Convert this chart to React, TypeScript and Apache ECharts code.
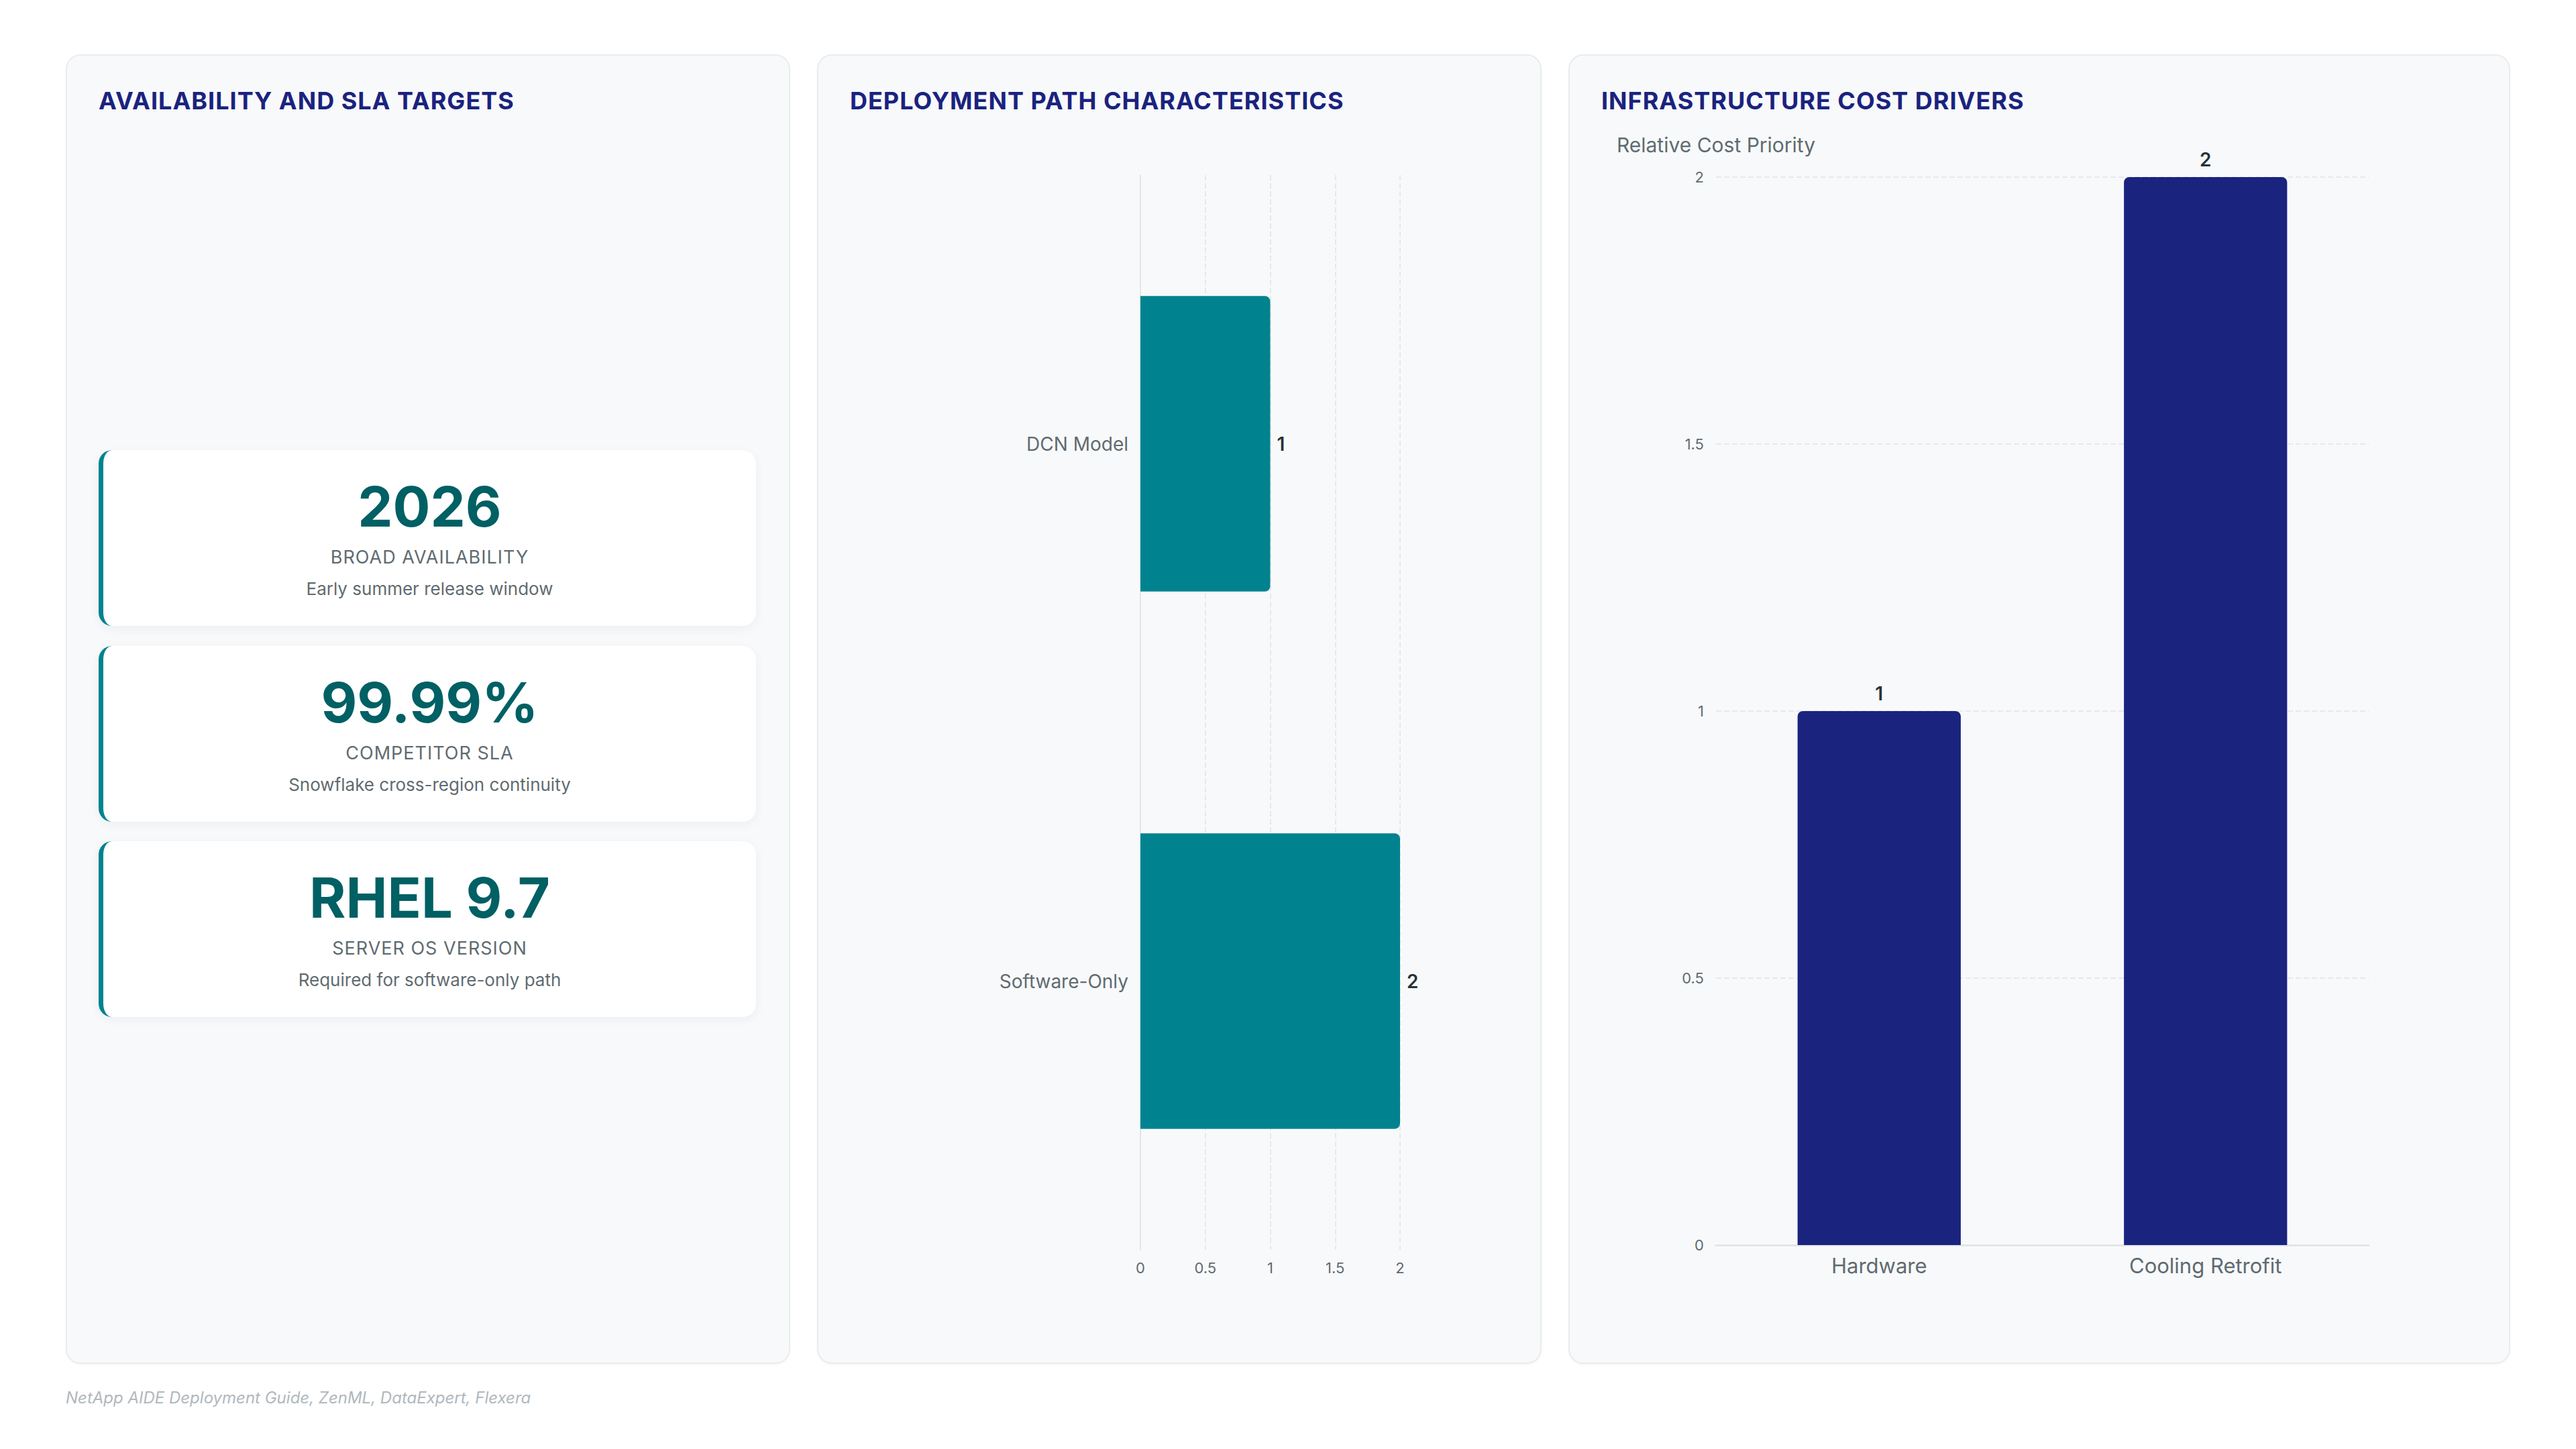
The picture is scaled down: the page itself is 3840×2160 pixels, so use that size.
import React, { useEffect, useRef } from "react";
import * as echarts from "echarts";

const panelTitles = ["AVAILABILITY AND SLA TARGETS", "DEPLOYMENT PATH CHARACTERISTICS", "INFRASTRUCTURE COST DRIVERS"];
const kpiValues = ["2026", "99.99%", "RHEL 9.7"];
const kpiLabels = ["BROAD AVAILABILITY", "COMPETITOR SLA", "SERVER OS VERSION"];
const kpiNotes = ["Early summer release window", "Snowflake cross-region continuity", "Required for software-only path"];
const deployCategories = ["DCN Model", "Software-Only"];
const deployValues = [1, 2];
const costCategories = ["Hardware", "Cooling Retrofit"];
const costValues = [1, 2];
const costAxisName = "Relative Cost Priority";
const sourceText = "NetApp AIDE Deployment Guide, ZenML, DataExpert, Flexera";

const FONT = "Inter, 'Noto Sans', sans-serif";
const GRAY = "#5f6b70";
const NAVY = "#1a237e";
const TEAL = "#00838f";
const DARK_TEAL = "#006064";

function Chart({ option, style }: { option: any; style: React.CSSProperties }) {
  const ref = useRef<HTMLDivElement>(null);
  useEffect(() => {
    if (!ref.current) return;
    const chart = echarts.init(ref.current, null, { renderer: "svg" });
    chart.setOption(option);
    return () => chart.dispose();
  }, []);
  return <div ref={ref} style={style} />;
}

const deployOption = {
  animation: false,
  textStyle: { fontFamily: FONT },
  grid: { left: 482, right: 211, top: 180, bottom: 170 },
  xAxis: {
    type: "value",
    min: 0,
    max: 2,
    interval: 0.5,
    axisLine: { show: false },
    axisTick: { show: false },
    axisLabel: { color: GRAY, fontSize: 22, margin: 16, fontFamily: FONT },
    splitLine: { lineStyle: { type: "dashed", color: "#e6e9ec", width: 2 } },
  },
  yAxis: {
    type: "category",
    inverse: true,
    data: deployCategories,
    axisLine: { lineStyle: { color: "#e3e6e9", width: 2 } },
    axisTick: { show: false },
    axisLabel: { color: GRAY, fontSize: 28, margin: 18, fontFamily: FONT },
  },
  series: [
    {
      type: "bar",
      data: deployValues,
      barWidth: "55%",
      itemStyle: { color: TEAL, borderRadius: [0, 8, 8, 0] },
      label: { show: true, position: "right", distance: 10, color: "#263238", fontSize: 28, fontWeight: 600, fontFamily: FONT },
    },
  ],
};

const costOption = {
  animation: false,
  textStyle: { fontFamily: FONT },
  grid: { left: 220, right: 211, top: 183, bottom: 177 },
  xAxis: {
    type: "category",
    data: costCategories,
    axisLine: { lineStyle: { color: "#e3e6e9", width: 3 } },
    axisTick: { show: false },
    axisLabel: { color: GRAY, fontSize: 31, margin: 15, fontFamily: FONT },
  },
  yAxis: {
    type: "value",
    min: 0,
    max: 2,
    interval: 0.5,
    name: costAxisName,
    nameGap: 33,
    nameTextStyle: { color: GRAY, fontSize: 30, fontFamily: FONT },
    axisLine: { show: false },
    axisTick: { show: false },
    axisLabel: { color: GRAY, fontSize: 22, margin: 18, fontFamily: FONT },
    splitLine: { lineStyle: { type: "dashed", color: "#e6e9ec", width: 2 } },
  },
  series: [
    {
      type: "bar",
      data: costValues,
      barWidth: "50%",
      itemStyle: { color: NAVY, borderRadius: [8, 8, 0, 0] },
      label: { show: true, position: "top", distance: 12, color: "#263238", fontSize: 28, fontWeight: 600, fontFamily: FONT },
    },
  ],
};

const panelLefts = [98, 1218, 2338];
const panelWidths = [1080, 1080, 1404];
const PANEL_TOP = 81;
const PANEL_H = 1952;

const cardTops = [590, 882, 1173];

export default function App() {
  return (
    <div
      style={{
        position: "fixed",
        left: 0,
        top: 0,
        width: 3840,
        height: 2160,
        background: "#ffffff",
        fontFamily: FONT,
        overflow: "hidden",
      }}
    >
      {panelTitles.map((t, i) => (
        <div
          key={t}
          style={{
            position: "absolute",
            left: panelLefts[i],
            top: PANEL_TOP,
            width: panelWidths[i],
            height: PANEL_H,
            boxSizing: "border-box",
            background: "#f8f9fb",
            border: "2px solid #e9ecef",
            borderRadius: 22,
            boxShadow: "0 2px 3px rgba(0,0,0,0.04)",
          }}
        >
          <div
            style={{
              position: "absolute",
              left: 47,
              top: 46,
              fontSize: 36,
              lineHeight: "42px",
              fontWeight: 700,
              letterSpacing: 1,
              color: NAVY,
              whiteSpace: "nowrap",
            }}
          >
            {t}
          </div>
        </div>
      ))}

      {kpiValues.map((v, i) => (
        <div
          key={v}
          style={{
            position: "absolute",
            left: 147,
            top: PANEL_TOP + cardTops[i],
            width: 980,
            height: 262,
            boxSizing: "border-box",
            background: "#ffffff",
            borderLeft: `7px solid ${TEAL}`,
            borderRadius: 20,
            boxShadow: "0 4px 16px rgba(20,40,60,0.05)",
          }}
        >
          <div style={{ position: "absolute", left: 0, right: 0, top: 43, textAlign: "center", fontSize: 83, lineHeight: "83px", fontWeight: 700, color: DARK_TEAL }}>
            {v}
          </div>
          <div style={{ position: "absolute", left: 0, right: 0, top: 144, textAlign: "center", fontSize: 27, lineHeight: "32px", fontWeight: 400, letterSpacing: 1, color: GRAY }}>
            {kpiLabels[i]}
          </div>
          <div style={{ position: "absolute", left: 0, right: 0, top: 191, textAlign: "center", fontSize: 26, lineHeight: "32px", color: GRAY }}>
            {kpiNotes[i]}
          </div>
        </div>
      ))}

      <Chart
        option={deployOption}
        style={{ position: "absolute", left: panelLefts[1], top: PANEL_TOP, width: panelWidths[1], height: PANEL_H }}
      />
      <Chart
        option={costOption}
        style={{ position: "absolute", left: panelLefts[2], top: PANEL_TOP, width: panelWidths[2], height: PANEL_H }}
      />

      <div
        style={{
          position: "absolute",
          left: 98,
          top: 2069,
          fontSize: 24,
          lineHeight: "30px",
          fontStyle: "italic",
          color: "#b0b8bd",
          whiteSpace: "nowrap",
        }}
      >
        {sourceText}
      </div>
    </div>
  );
}
